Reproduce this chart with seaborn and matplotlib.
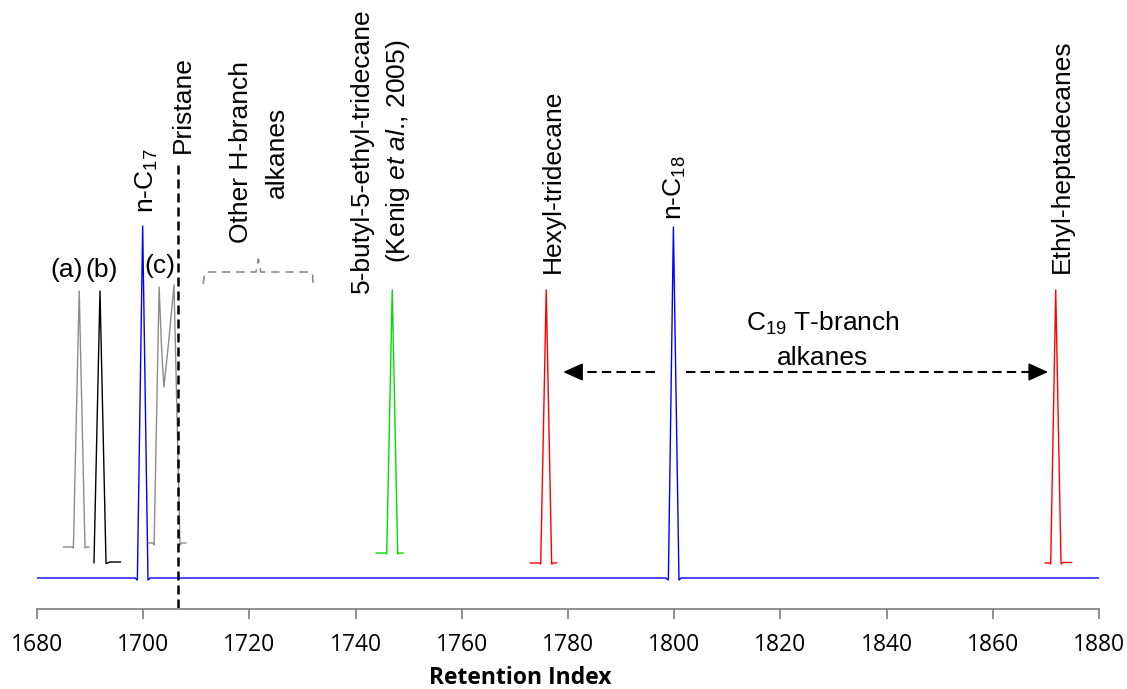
import numpy as np
import pandas as pd
import matplotlib
matplotlib.use("Agg")
import matplotlib.pyplot as plt
import seaborn as sns

# ---------------- data ----------------
n_alkane_x = [1680, 1698.5, 1698.9, 1699.9, 1700.9, 1701.3,
              1798.4, 1798.9, 1799.85, 1800.9, 1801.3, 1880]
n_alkane_y = [0, 0, -2, 352, -2, 0, 0, -2, 351, -2, 0, 0]

peak_a_x = [1684.95, 1686.7, 1686.85, 1687.95, 1689.04, 1689.3, 1689.85]
peak_a_y = [31, 31, 30, 287, 30, 31, 31]

peak_b_x = [1690.73, 1691.86, 1693.0, 1693.75, 1695.76]
peak_b_y = [15, 287, 14.5, 16, 16]

peak_c_x = [1700.96, 1701.9, 1702.05, 1703.0, 1703.45, 1703.9, 1704.7,
            1705.8, 1706.93, 1707.2, 1708.06]
peak_c_y = [35, 35, 33, 291, 231, 191, 231, 293, 33, 35, 35]

butyl_x = [1743.84, 1745.73, 1745.86, 1746.9, 1747.93, 1748.2, 1748.98]
butyl_y = [25, 25, 24, 288, 24, 25, 25]

hexyl_x = [1772.84, 1774.6, 1774.86, 1775.9, 1776.92, 1777.2, 1777.87]
hexyl_y = [15, 15, 14, 288, 14, 15, 15]

ethyl_x = [1869.83, 1870.65, 1870.9, 1871.85, 1872.85, 1873.2, 1874.87]
ethyl_y = [15, 15, 14, 288, 14, 15.5, 15.5]

pristane_ri = 1706.6
tick_values = [1680, 1700, 1720, 1740, 1760, 1780, 1800, 1820, 1840, 1860, 1880]

brace_left, brace_mid, brace_right = 1711.3, 1721.7, 1732.0
arrow_left_tip, arrow_left_start = 1779.1, 1796.4
arrow_right_start, arrow_right_tip = 1802.2, 1870.4

# ---------------- build long-form frame ----------------
traces = {
    "n-alkanes": (n_alkane_x, n_alkane_y),
    "a": (peak_a_x, peak_a_y),
    "b": (peak_b_x, peak_b_y),
    "c": (peak_c_x, peak_c_y),
    "butyl": (butyl_x, butyl_y),
    "hexyl": (hexyl_x, hexyl_y),
    "ethyl": (ethyl_x, ethyl_y),
}
frames = []
for name, (xs, ys) in traces.items():
    frames.append(pd.DataFrame({"x": xs, "y": ys, "trace": name}))
df = pd.concat(frames, ignore_index=True)

palette = {"n-alkanes": "#0000ff", "a": "#8c8c8c", "b": "#000000",
           "c": "#8c8c8c", "butyl": "#00dd00", "hexyl": "#ff0000",
           "ethyl": "#ff0000"}

# ---------------- style ----------------
sns.set_style("white")
plt.rcParams["font.family"] = ["Liberation Sans", "DejaVu Sans"]
plt.rcParams["text.color"] = "black"
plt.rcParams["mathtext.fontset"] = "custom"
plt.rcParams["mathtext.rm"] = "Liberation Sans"
plt.rcParams["mathtext.it"] = "Liberation Sans:italic"
plt.rcParams["mathtext.bf"] = "Liberation Sans:bold"

fig = plt.figure(figsize=(11.27, 6.89), dpi=100)
ax = fig.add_axes([37 / 1127, 80 / 689, 1062 / 1127, 609 / 689])

sns.lineplot(data=df, x="x", y="y", hue="trace", palette=palette,
             sort=False, estimator=None, legend=False, lw=1.0, ax=ax)

ax.set_xlim(1680, 1880)
ax.set_ylim(-31, 578)

for s in ["left", "right", "top"]:
    ax.spines[s].set_visible(False)
ax.spines["bottom"].set_color("#878787")
ax.spines["bottom"].set_linewidth(1.3)
ax.set_yticks([])
ax.set_xticks(tick_values)
ax.set_xticklabels([str(t) for t in tick_values], fontfamily="Open Sans",
                   fontsize=16.5, color="black")
ax.tick_params(axis="x", direction="out", length=7.2, width=1.3,
               color="#878787", pad=10, bottom=True)
ax.set_ylabel("")
ax.set_xlabel("Retention Index", fontfamily="Open Sans", fontweight="bold",
              fontsize=16.5, color="black")
ax.xaxis.set_label_coords((520 - 37) / 1062, (609 - 678) / 609)
ax.xaxis.label.set_va("center")

FS = 19

# Pristane dashed line
ax.plot([pristane_ri, pristane_ri], [413, -31], color="black", lw=1.8,
        dashes=(3.6, 2.0), clip_on=False)

# brace for other H-branch alkanes
by = 306
bx = [brace_left, brace_left + 0.25, brace_left + 0.7, brace_mid - 0.45,
      brace_mid, brace_mid + 0.45, brace_right - 0.6, brace_right - 0.1,
      brace_right]
byy = [by - 12, by - 2, by, by, by + 13, by, by, by - 2, by - 12]
ax.plot(bx, byy, color="#8c8c8c", lw=1.2, dashes=(5, 3.5))

# dashed arrows
ay = 206
ax.plot([arrow_left_start, arrow_left_tip + 2.2], [ay, ay], color="black",
        lw=1.5, dashes=(4.5, 2.5))
ax.plot([arrow_right_start, arrow_right_tip - 2.2], [ay, ay], color="black",
        lw=1.5, dashes=(4.5, 2.5))
head = dict(arrowstyle="-|>,head_length=0.55,head_width=0.25",
            color="black", lw=1.2, mutation_scale=22, shrinkA=0, shrinkB=0)
ax.annotate("", xy=(arrow_left_tip, ay), xytext=(arrow_left_tip + 2.5, ay),
            arrowprops=head)
ax.annotate("", xy=(arrow_right_tip, ay), xytext=(arrow_right_tip - 2.5, ay),
            arrowprops=head)

# ---------------- labels ----------------
ax.text(1685.65, 308, "(a)", fontsize=FS, ha="center", va="center")
ax.text(1692.2, 308, "(b)", fontsize=FS, ha="center", va="center")
ax.text(1703.2, 312, "(c)", fontsize=FS, ha="center", va="center")

ax.text(1700.7, 365, "n-C$_{17}$", fontsize=FS, rotation=90,
        ha="center", va="bottom")
ax.text(1707.5, 425, "Pristane", fontsize=FS, rotation=90,
        ha="center", va="bottom")
ax.text(1721.8, 426, "Other H-branch\nalkanes", fontsize=FS, rotation=90,
        ha="center", va="center", multialignment="center", linespacing=1.6)
ax.text(1744.8, 427,
        "5-butyl-5-ethyl-tridecane\n(Kenig $\\mathit{et\\ al}$., 2005)",
        fontsize=FS, rotation=90, ha="center", va="center",
        multialignment="center", linespacing=1.5)
ax.text(1777.2, 305, "Hexyl-tridecane", fontsize=FS, rotation=90,
        ha="center", va="bottom")
ax.text(1800.2, 358, "n-C$_{18}$", fontsize=FS, rotation=90,
        ha="center", va="bottom")
ax.text(1873.0, 305, "Ethyl-heptadecanes", fontsize=FS, rotation=90,
        ha="center", va="bottom")
ax.text(1828, 238, "C$_{19}$ T-branch\nalkanes", fontsize=FS,
        ha="center", va="center", multialignment="center", linespacing=1.5)

fig.savefig("out.png", dpi=100)
